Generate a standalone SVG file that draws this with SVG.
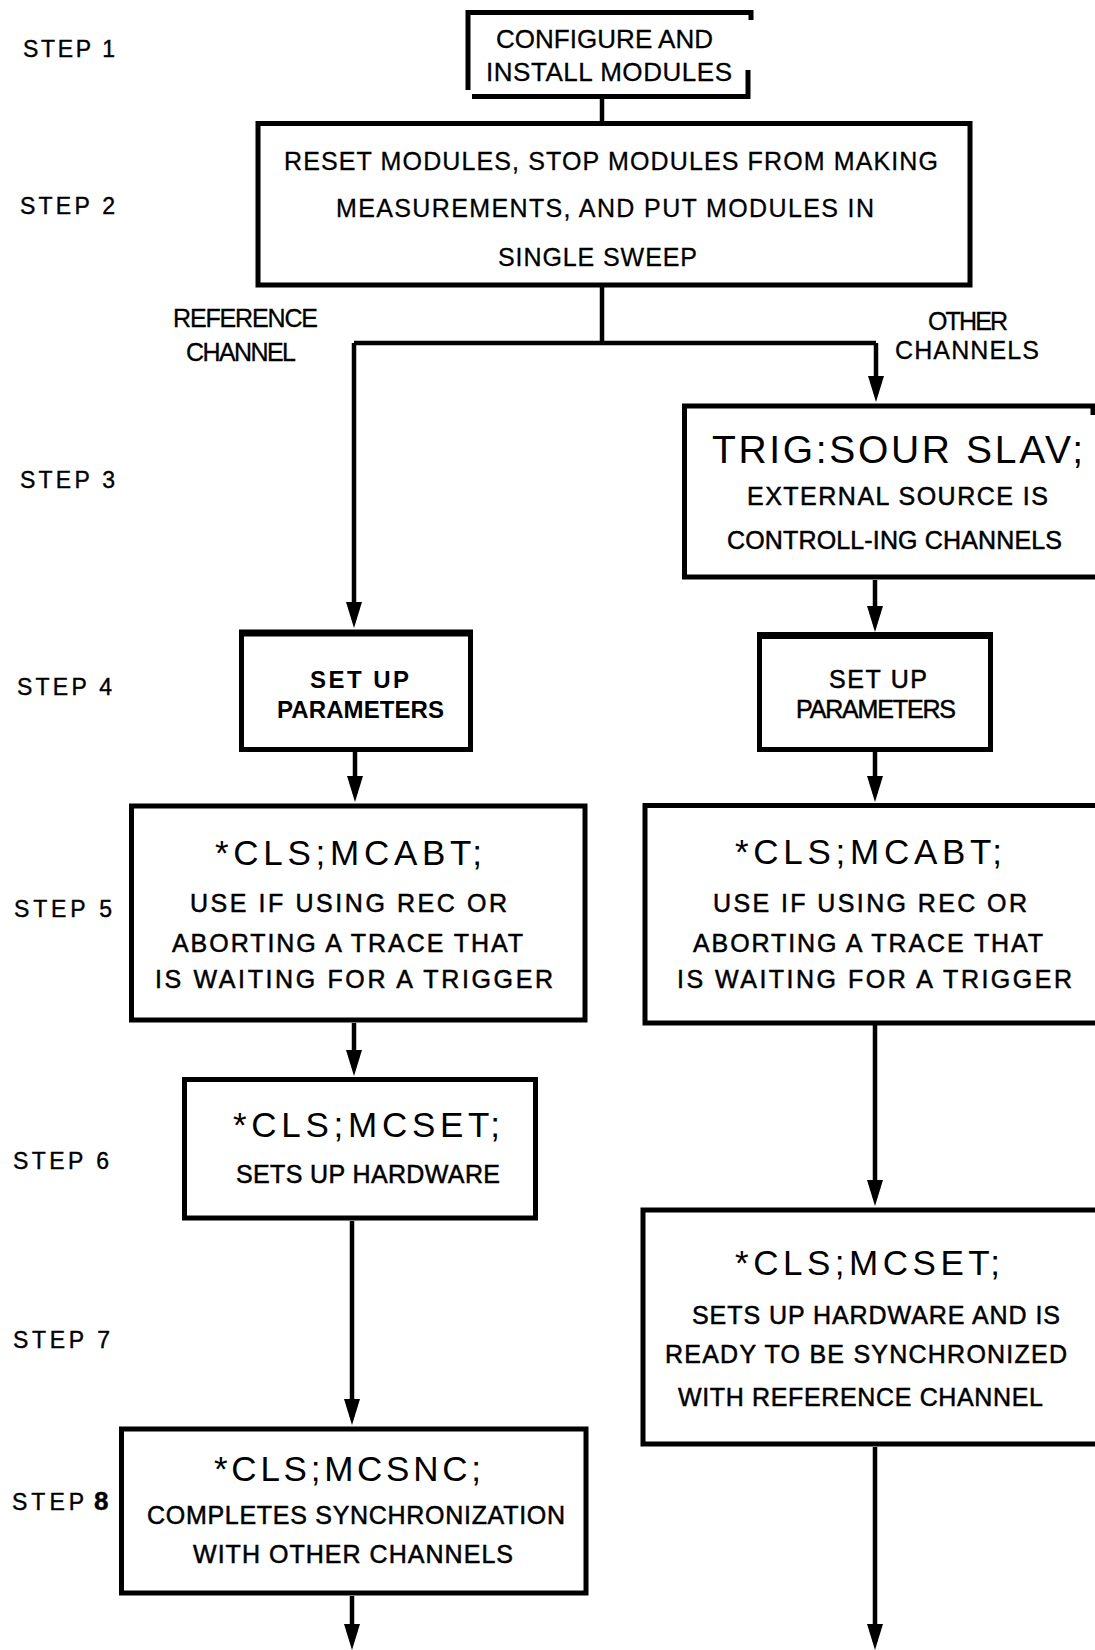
<svg xmlns="http://www.w3.org/2000/svg" width="1095" height="1650" viewBox="0 0 1095 1650">
  <style>
    text { font-family: "Liberation Sans", Arial, sans-serif; fill: #000; }
    .step { font-size: 23px; stroke: #000; stroke-width: 0.4px; }
    .cond { font-size: 25px; stroke: #000; stroke-width: 0.3px; }
    .big { font-size: 26px; stroke: #000; stroke-width: 0.3px; }
    .cmd { font-size: 35px; }
    .cmd3 { font-size: 39px; }
    .desc { font-size: 25px; stroke: #000; stroke-width: 0.5px; }
    .bold { font-size: 24px; font-weight: bold; }
    .box { fill: #fff; stroke: #000; stroke-width: 5; }
    .open { fill: none; stroke: #000; stroke-width: 5; }
    .thick { stroke: #000; stroke-width: 7; }
    .conn path { fill: none; stroke: #000; stroke-width: 4.5; }
  </style>
  <defs>
    <marker id="head" markerUnits="userSpaceOnUse" markerWidth="26" markerHeight="16" refX="18" refY="8" orient="auto">
      <path d="M0,0 L26,8 L0,16 z" fill="#000"/>
    </marker>
  </defs>

  <rect width="1095" height="1650" fill="#fff"/>

  <!-- step labels down the left margin -->
  <g id="steps">
    <text class="step" x="23" y="57" textLength="92">STEP 1</text>
    <text class="step" x="20" y="214" textLength="95">STEP 2</text>
    <text class="step" x="20" y="488" textLength="95">STEP 3</text>
    <text class="step" x="17" y="695" textLength="95">STEP 4</text>
    <text class="step" x="14" y="917" textLength="98">STEP 5</text>
    <text class="step" x="13" y="1169" textLength="96">STEP 6</text>
    <text class="step" x="13" y="1348" textLength="97">STEP 7</text>
    <text class="step" x="12" y="1510">S<tspan dx="4">T</tspan><tspan dx="4">E</tspan><tspan dx="4">P</tspan><tspan dx="10" font-size="26" font-weight="bold">8</tspan></text>
  </g>

  <!-- branch labels -->
  <g id="branch-labels">
    <text class="cond" x="173" y="327" textLength="145">REFERENCE</text>
    <text class="cond" x="186" y="361" textLength="110">CHANNEL</text>
    <text class="cond" x="928" y="330" textLength="80">OTHER</text>
    <text class="cond" x="895" y="359" textLength="144">CHANNELS</text>
  </g>

  <!-- connectors -->
  <g id="connectors" class="conn">
    <path d="M602,97 V123"/>
    <path d="M602,287 V343"/>
    <path d="M354,343 H876"/>
    <path d="M354,343 V620" marker-end="url(#head)"/>
    <path d="M876,343 V394" marker-end="url(#head)"/>
    <path d="M875,580 V624" marker-end="url(#head)"/>
    <path d="M355,752 V794" marker-end="url(#head)"/>
    <path d="M875,752 V794" marker-end="url(#head)"/>
    <path d="M354,1023 V1068" marker-end="url(#head)"/>
    <path d="M875,1025 V1198" marker-end="url(#head)"/>
    <path d="M352,1221 V1417" marker-end="url(#head)"/>
    <path d="M352,1596 V1642" marker-end="url(#head)"/>
    <path d="M875,1447 V1642" marker-end="url(#head)"/>
  </g>

  <!-- step 1 -->
  <g id="configure">
    <path class="open" d="M468,90 V12.5 H751 V20 M748,70 V96.5 H472"/>
    <text class="big" x="496" y="48" textLength="217">CONFIGURE AND</text>
    <text class="big" x="486" y="81" textLength="246">INSTALL MODULES</text>
  </g>

  <!-- step 2 -->
  <g id="reset">
    <rect class="box" x="258" y="123.5" width="712" height="161.5"/>
    <text class="cond" x="284" y="170" textLength="654">RESET MODULES, STOP MODULES FROM MAKING</text>
    <text class="cond" x="336" y="217" textLength="538">MEASUREMENTS, AND PUT MODULES IN</text>
    <text class="cond" x="498" y="266" textLength="199">SINGLE SWEEP</text>
  </g>

  <!-- step 3, other channels -->
  <g id="trig-source">
    <path class="open" d="M1100,406 H684.5 V577 H1100 M1093,406 V415"/>
    <text class="cmd3" x="712" y="463" textLength="371">TRIG:SOUR SLAV;</text>
    <text class="desc" x="747" y="505" textLength="301">EXTERNAL SOURCE IS</text>
    <text class="desc" x="727" y="549" textLength="335">CONTROLL-ING CHANNELS</text>
  </g>

  <!-- step 4 -->
  <g id="setup-ref">
    <rect class="box" x="241.5" y="633.5" width="229" height="116"/>
    <line class="thick" x1="239" y1="633" x2="473" y2="633"/>
    <text class="bold" x="310" y="688" textLength="99">SET UP</text>
    <text class="bold" x="277" y="718" textLength="167">PARAMETERS</text>
  </g>
  <g id="setup-other">
    <rect class="box" x="759.5" y="636" width="231" height="113.5"/>
    <line class="thick" x1="757" y1="635.5" x2="993" y2="635.5"/>
    <text class="desc" font-size="24" x="829" y="688" textLength="98">SET UP</text>
    <text class="desc" font-size="24" x="796" y="718" textLength="160">PARAMETERS</text>
  </g>

  <!-- step 5 -->
  <g id="abort-ref">
    <rect class="box" x="131.5" y="806" width="453.5" height="214"/>
    <text class="cmd" x="215" y="865" textLength="267">*CLS;MCABT;</text>
    <text class="desc" x="190" y="912" textLength="317">USE IF USING REC OR</text>
    <text class="desc" x="172" y="952" textLength="351">ABORTING A TRACE THAT</text>
    <text class="desc" x="155" y="988" textLength="398">IS WAITING FOR A TRIGGER</text>
  </g>
  <g id="abort-other">
    <path class="open" d="M1100,805.5 H645 V1023 H1100"/>
    <text class="cmd" x="735" y="864" textLength="267">*CLS;MCABT;</text>
    <text class="desc" x="713" y="912" textLength="314">USE IF USING REC OR</text>
    <text class="desc" x="693" y="952" textLength="350">ABORTING A TRACE THAT</text>
    <text class="desc" x="677" y="988" textLength="395">IS WAITING FOR A TRIGGER</text>
  </g>

  <!-- step 6 -->
  <g id="mcset-ref">
    <rect class="box" x="184.5" y="1079.5" width="351" height="138.5"/>
    <text class="cmd" x="233" y="1137" textLength="267">*CLS;MCSET;</text>
    <text class="desc" x="236" y="1183" textLength="264">SETS UP HARDWARE</text>
  </g>

  <!-- step 6/7, other channels -->
  <g id="mcset-other">
    <path class="open" d="M1100,1210 H643 V1444 H1100"/>
    <text class="cmd" x="735" y="1275" textLength="265">*CLS;MCSET;</text>
    <text class="desc" x="692" y="1324" textLength="368">SETS UP HARDWARE AND IS</text>
    <text class="desc" x="665" y="1363" textLength="402">READY TO BE SYNCHRONIZED</text>
    <text class="desc" x="678" y="1406" textLength="365">WITH REFERENCE CHANNEL</text>
  </g>

  <!-- step 8 -->
  <g id="mcsnc">
    <rect class="box" x="121.5" y="1429" width="464.5" height="164"/>
    <text class="cmd" x="214" y="1481" textLength="267">*CLS;MCSNC;</text>
    <text class="desc" x="147" y="1524" textLength="418">COMPLETES SYNCHRONIZATION</text>
    <text class="desc" x="193" y="1563" textLength="320">WITH OTHER CHANNELS</text>
  </g>
</svg>
